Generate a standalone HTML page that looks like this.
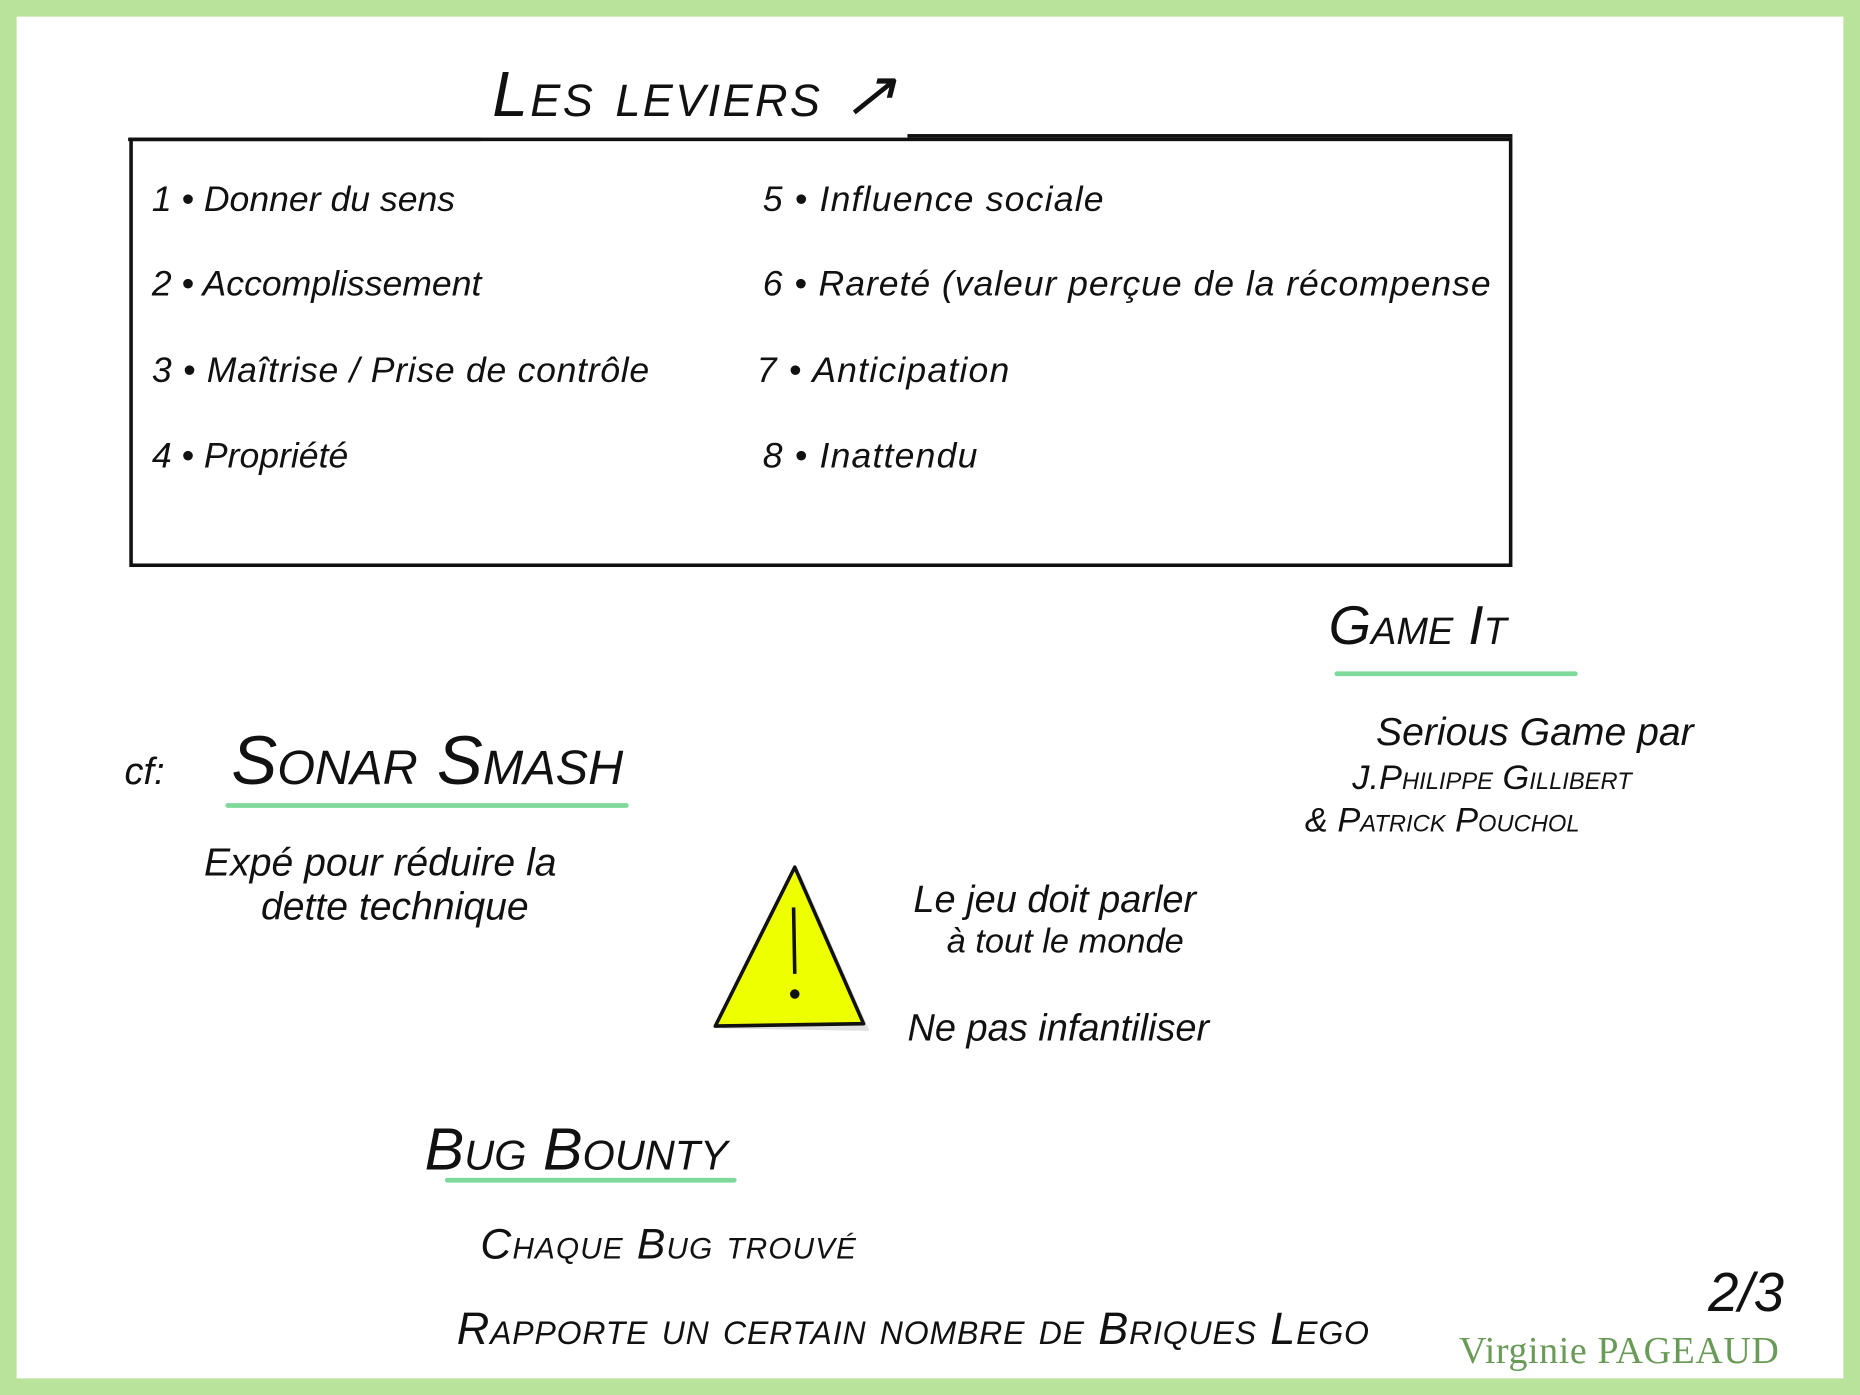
<!DOCTYPE html>
<html><head><meta charset="utf-8"><style>
html,body{margin:0;padding:0;background:#fff;}
body{width:1860px;height:1395px;overflow:hidden;position:relative;}
#w{position:absolute;left:0;top:0;width:1568px;height:1176px;transform:scale(1.18622);transform-origin:0 0;font-family:"Liberation Sans",sans-serif;color:#111;}
.b{position:absolute;inset:0;border:14px solid #b9e29a;box-sizing:border-box;}
.t{position:absolute;white-space:nowrap;font-style:italic;}
.l{position:absolute;background:#111;height:3px;}
.g{position:absolute;background:#7ed99a;height:4px;border-radius:2px;}
</style></head><body><div id="w">
<div class="b"></div>
<div class="t" style="left:415px;top:48px;font-size:54px;font-variant:small-caps;letter-spacing:2px;">Les leviers ↗</div>
<div class="l" style="left:108px;top:116px;width:297px;"></div>
<div class="l" style="left:765px;top:113px;width:510px;"></div>
<div style="position:absolute;left:109px;top:116px;width:1166px;height:362px;border:3px solid #111;box-sizing:border-box;"></div>
<div class="t" style="left:128px;top:152px;font-size:30px;">1 • Donner du sens</div>
<div class="t" style="left:128px;top:223px;font-size:30px;">2 • Accomplissement</div>
<div class="t" style="left:128px;top:296px;font-size:30px;letter-spacing:0.6px;">3 • Maîtrise / Prise de contrôle</div>
<div class="t" style="left:128px;top:368px;font-size:30px;">4 • Propriété</div>
<div class="t" style="left:643px;top:152px;font-size:30px;letter-spacing:1px;">5 • Influence sociale</div>
<div class="t" style="left:643px;top:223px;font-size:30px;letter-spacing:0.8px;">6 • Rareté (valeur perçue de la récompense</div>
<div class="t" style="left:638px;top:296px;font-size:30px;letter-spacing:1px;">7 • Anticipation</div>
<div class="t" style="left:643px;top:368px;font-size:30px;letter-spacing:1px;">8 • Inattendu</div>
<div class="t" style="left:1120px;top:500px;font-size:46px;font-variant:small-caps;">Game It</div>
<div class="g" style="left:1125px;top:566px;width:205px;"></div>
<div class="t" style="left:1160px;top:598px;font-size:33px;">Serious Game par</div>
<div class="t" style="left:1140px;top:640px;font-size:29px;font-variant:small-caps;">J.Philippe Gillibert</div>
<div class="t" style="left:1100px;top:676px;font-size:29px;font-variant:small-caps;">&amp; Patrick Pouchol</div>
<div class="t" style="left:105px;top:632px;font-size:32px;">cf:</div>
<div class="t" style="left:195px;top:608px;font-size:58px;font-variant:small-caps;">Sonar Smash</div>
<div class="g" style="left:190px;top:677px;width:340px;"></div>
<div class="t" style="left:172px;top:708px;font-size:33px;">Expé pour réduire la</div>
<div class="t" style="left:220px;top:745px;font-size:33px;">dette technique</div>
<svg style="position:absolute;left:595px;top:725px;" width="145" height="150">
<polygon points="80,12 138,144 14,142" fill="#ccc" opacity="0.6"/>
<polygon points="75,6 133,138 8,140" fill="#eeff00" stroke="#111" stroke-width="3" stroke-linejoin="round"/>
<line x1="74" y1="40" x2="75" y2="96" stroke="#111" stroke-width="3"/>
<circle cx="75" cy="113" r="4" fill="#111"/></svg>
<div class="t" style="left:770px;top:740px;font-size:32px;">Le jeu doit parler</div>
<div class="t" style="left:798px;top:778px;font-size:29px;">à tout le monde</div>
<div class="t" style="left:765px;top:848px;font-size:32px;">Ne pas infantiliser</div>
<div class="t" style="left:358px;top:940px;font-size:50px;font-variant:small-caps;">Bug Bounty</div>
<div class="g" style="left:375px;top:993px;width:246px;"></div>
<div class="t" style="left:405px;top:1028px;font-size:36px;font-variant:small-caps;letter-spacing:1px;">Chaque Bug trouvé</div>
<div class="t" style="left:385px;top:1100px;font-size:38px;font-variant:small-caps;letter-spacing:0.7px;">Rapporte un certain nombre de Briques Lego</div>
<div class="t" style="left:1440px;top:1062px;font-size:46px;">2/3</div>
<div style="position:absolute;left:1230px;top:1120px;font-size:32px;font-family:'Liberation Serif',serif;color:#6a9a57;white-space:nowrap;letter-spacing:0.5px;">Virginie PAGEAUD</div>
</div></body></html>
